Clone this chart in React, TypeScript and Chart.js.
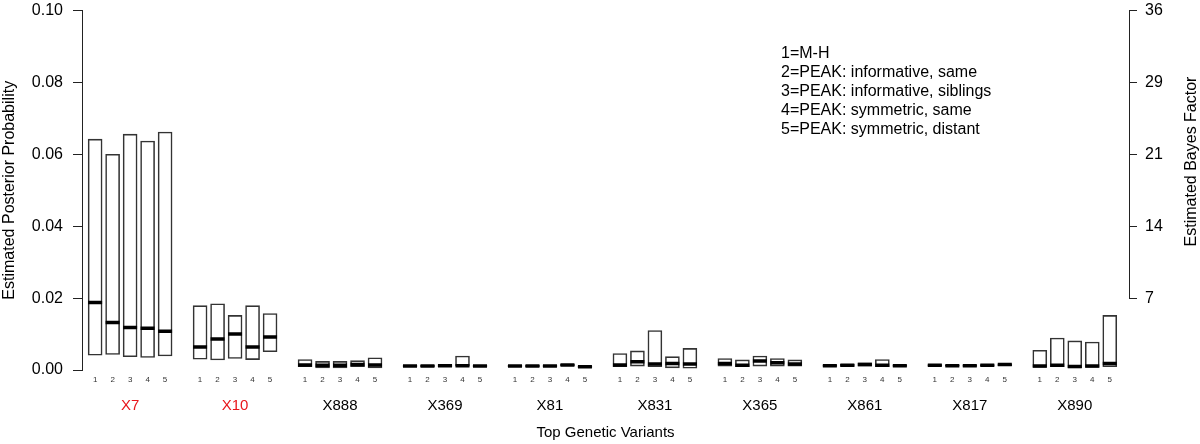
import { useEffect, useRef } from 'react';
import { Chart, registerables } from 'chart.js';

Chart.register(...registerables);

const FONT = "'Liberation Sans', Arial, Helvetica, sans-serif";

const variantGroups = ['X7', 'X10', 'X888', 'X369', 'X81', 'X831', 'X365', 'X861', 'X817', 'X890'];
const highlightedGroups = ['X7', 'X10'];
const methodLabels = ['1', '2', '3', '4', '5'];
const legendLines = [
  '1=M-H',
  '2=PEAK: informative, same',
  '3=PEAK: informative, siblings',
  '4=PEAK: symmetric, same',
  '5=PEAK: symmetric, distant',
];
const rightAxisTitle = 'Estimated Bayes Factor';

// posterior probability intervals per variant (5 methods each)
const lowerBounds = [
  [0.0041, 0.0043, 0.0037, 0.0035, 0.0039],
  [0.0030, 0.0028, 0.0032, 0.0029, 0.0051],
  [0.0009, 0.0006, 0.0006, 0.0009, 0.0006],
  [0.0009, 0.0009, 0.0009, 0.0011, 0.0009],
  [0.0009, 0.0009, 0.0009, 0.0012, 0.0007],
  [0.0009, 0.0011, 0.0009, 0.0006, 0.0005],
  [0.0011, 0.0009, 0.0011, 0.0011, 0.0011],
  [0.0010, 0.0010, 0.0011, 0.0009, 0.0010],
  [0.0011, 0.0011, 0.0010, 0.0011, 0.0012],
  [0.0007, 0.0009, 0.0006, 0.0007, 0.0009],
];
const upperBounds = [
  [0.0642, 0.0600, 0.0656, 0.0637, 0.0662],
  [0.0179, 0.0184, 0.0152, 0.0179, 0.0157],
  [0.0029, 0.0024, 0.0024, 0.0026, 0.0034],
  [0.0013, 0.0013, 0.0015, 0.0039, 0.0013],
  [0.0013, 0.0013, 0.0013, 0.0016, 0.0011],
  [0.0046, 0.0053, 0.0110, 0.0037, 0.0060],
  [0.0032, 0.0028, 0.0039, 0.0032, 0.0028],
  [0.0014, 0.0016, 0.0020, 0.0029, 0.0014],
  [0.0015, 0.0014, 0.0014, 0.0015, 0.0017],
  [0.0055, 0.0089, 0.0081, 0.0078, 0.0152],
];
const medianValues = [
  [0.0188, 0.0132, 0.0118, 0.0116, 0.0108],
  [0.0064, 0.0086, 0.0100, 0.0064, 0.0092],
  [0.0014, 0.0013, 0.0013, 0.0015, 0.0014],
  [0.0011, 0.0011, 0.0012, 0.0012, 0.0011],
  [0.0011, 0.0011, 0.0011, 0.0014, 0.0009],
  [0.0014, 0.0023, 0.0017, 0.0018, 0.0017],
  [0.0018, 0.0013, 0.0025, 0.0020, 0.0017],
  [0.0012, 0.0013, 0.0015, 0.0013, 0.0012],
  [0.0013, 0.0012, 0.0012, 0.0013, 0.0015],
  [0.0011, 0.0013, 0.0010, 0.0011, 0.0018],
];

const posteriorTicks = [0, 0.02, 0.04, 0.06, 0.08, 0.1];
const bayesTickValues = [0.02, 0.04, 0.06, 0.08, 0.1];
const bayesLabels = ['7', '14', '21', '29', '36'];

const SLOTS_PER_GROUP = 6;

export default function App() {
  const canvasRef = useRef<HTMLCanvasElement>(null);

  useEffect(() => {
    if (!canvasRef.current) return;
    const positions: number[] = [];
    const boxes: { x: number; y: number[] }[] = [];
    const medians: { x: number; y: number }[] = [];
    variantGroups.forEach((_, gi) => {
      methodLabels.forEach((__, mi) => {
        const x = gi * SLOTS_PER_GROUP + mi;
        positions.push(x);
        boxes.push({ x, y: [lowerBounds[gi][mi], upperBounds[gi][mi]] });
        medians.push({ x, y: medianValues[gi][mi] });
      });
    });
    const groupCenters = variantGroups.map((_, gi) => gi * SLOTS_PER_GROUP + 2);
    const xMin = -0.75;
    const xMax = variantGroups.length * SLOTS_PER_GROUP - 0.9;

    const extrasPlugin = {
      id: 'extras',
      afterDraw(chart: any) {
        const ctx = chart.ctx;
        const y2 = chart.scales.y2;
        ctx.save();
        // right axis line (only spans the labelled range)
        ctx.strokeStyle = '#222';
        ctx.lineWidth = 1;
        ctx.beginPath();
        const bx = Math.round(y2.left) + 0.5;
        ctx.moveTo(bx, y2.getPixelForValue(bayesTickValues[0]));
        ctx.lineTo(bx, y2.getPixelForValue(bayesTickValues[bayesTickValues.length - 1]));
        ctx.stroke();
        // right axis title, reading bottom to top
        ctx.font = `16px ${FONT}`;
        ctx.fillStyle = '#000';
        ctx.textAlign = 'center';
        ctx.textBaseline = 'middle';
        ctx.save();
        ctx.translate(chart.width - 8, y2.getPixelForValue(0.058));
        ctx.rotate(-Math.PI / 2);
        ctx.fillText(rightAxisTitle, 0, 0);
        ctx.restore();
        // method key
        ctx.textAlign = 'left';
        const lx = chart.chartArea.left + 699;
        legendLines.forEach((t, i) => ctx.fillText(t, lx, 54 + i * 19));
        ctx.restore();
      },
    };

    const chart = new Chart(canvasRef.current, {
      type: 'bar',
      data: {
        datasets: [
          {
            type: 'line',
            data: medians as any,
            xAxisID: 'x',
            yAxisID: 'y',
            showLine: false,
            pointStyle: 'line',
            pointRadius: 7,
            pointHoverRadius: 7,
            pointBorderWidth: 3.5,
            pointBorderColor: '#000',
            borderColor: '#000',
            order: 0,
          } as any,
          {
            type: 'bar',
            data: boxes as any,
            xAxisID: 'x',
            yAxisID: 'y',
            backgroundColor: '#fff',
            borderColor: '#333',
            borderWidth: 1.6,
            borderSkipped: false,
            barThickness: 14,
            grouped: false,
            order: 1,
          } as any,
        ],
      },
      options: {
        responsive: false,
        animation: false,
        events: [],
        layout: { padding: { top: 8, left: 0, right: 0, bottom: 0 } },
        plugins: { legend: { display: false }, tooltip: { enabled: false } },
        scales: {
          x: {
            type: 'linear',
            position: 'bottom',
            offset: false,
            min: xMin,
            max: xMax,
            grid: { display: false, drawTicks: false, offset: false },
            border: { display: false },
            afterBuildTicks: (scale: any) => {
              scale.ticks = positions.map((v) => ({ value: v }));
            },
            afterFit: (scale: any) => {
              scale.height = 20;
              scale.paddingLeft = 0;
              scale.paddingRight = 0;
            },
            ticks: {
              autoSkip: false,
              maxRotation: 0,
              padding: 5,
              color: '#333',
              font: { family: FONT, size: 8 },
              callback: (v: any) => methodLabels[Math.round(v) % SLOTS_PER_GROUP],
            },
          },
          x2: {
            type: 'linear',
            position: 'bottom',
            offset: false,
            min: xMin,
            max: xMax,
            grid: { display: false, drawTicks: false, offset: false },
            border: { display: false },
            afterBuildTicks: (scale: any) => {
              scale.ticks = groupCenters.map((v) => ({ value: v }));
            },
            afterFit: (scale: any) => {
              scale.height = 54;
              scale.paddingLeft = 0;
              scale.paddingRight = 0;
            },
            ticks: {
              autoSkip: false,
              maxRotation: 0,
              padding: 7,
              font: { family: FONT, size: 15 },
              color: (ctx: any) =>
                highlightedGroups.includes(variantGroups[ctx.index]) ? '#e8161b' : '#000',
              callback: (v: any) => variantGroups[Math.round((Number(v) - 2) / SLOTS_PER_GROUP)],
            },
            title: {
              display: true,
              text: 'Top Genetic Variants',
              color: '#000',
              font: { family: FONT, size: 15 },
              padding: { top: 0, bottom: 2 },
            },
          },
          y: {
            type: 'linear',
            position: 'left',
            min: 0,
            max: 0.1,
            grid: { drawOnChartArea: false, drawTicks: true, tickLength: 9, tickColor: '#222' },
            border: { display: true, color: '#222', width: 1 },
            afterBuildTicks: (scale: any) => {
              scale.ticks = posteriorTicks.map((v) => ({ value: v }));
            },
            afterFit: (scale: any) => {
              scale.width = 82;
              scale.paddingTop = 0;
              scale.paddingBottom = 0;
            },
            ticks: {
              padding: 10,
              color: '#000',
              font: { family: FONT, size: 16 },
              callback: (v: any) => Number(v).toFixed(2),
            },
            title: {
              display: true,
              text: 'Estimated Posterior Probability',
              color: '#000',
              font: { family: FONT, size: 16 },
              padding: { top: 0, bottom: 0 },
            },
          },
          y2: {
            type: 'linear',
            position: 'right',
            min: 0,
            max: 0.1,
            grid: { drawOnChartArea: false, drawTicks: true, tickLength: 8, tickColor: '#222' },
            border: { display: false },
            afterBuildTicks: (scale: any) => {
              scale.ticks = bayesTickValues.map((v) => ({ value: v }));
            },
            afterFit: (scale: any) => {
              scale.width = 71;
              scale.paddingTop = 0;
              scale.paddingBottom = 0;
            },
            ticks: {
              padding: 8,
              color: '#000',
              font: { family: FONT, size: 16 },
              callback: (_v: any, i: number) => bayesLabels[i],
            },
          },
        },
      } as any,
      plugins: [extrasPlugin],
    });

    return () => chart.destroy();
  }, []);

  return (
    <div style={{ position: 'absolute', left: 0, top: 0, width: 1200, height: 444, background: '#fff' }}>
      <canvas ref={canvasRef} width={1200} height={444} style={{ display: 'block' }} />
    </div>
  );
}
